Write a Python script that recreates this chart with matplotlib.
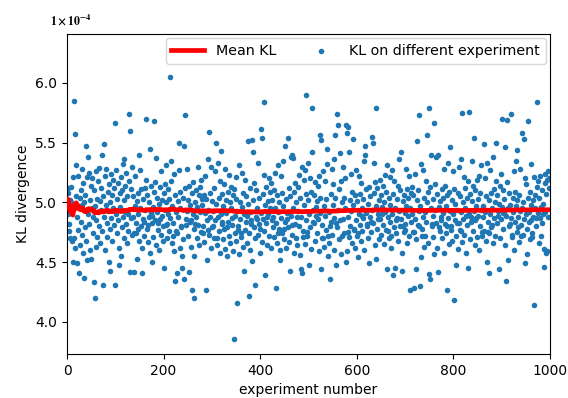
import numpy as np
import matplotlib
matplotlib.use("Agg")
import matplotlib.pyplot as plt

# KL divergence per experiment, in units of 1e-4
kl = [
    # 0-135
    4.98, 5.08, 4.90, 5.12, 4.76, 4.82, 5.02, 4.70, 5.00, 5.13,
    4.68, 4.93, 4.50, 5.21, 5.85, 4.70, 4.62, 5.57, 5.05, 5.31,
    4.49, 4.88, 5.22, 4.77, 4.41, 4.95, 5.04, 4.64, 5.10, 4.84,
    5.28, 4.73, 4.98, 5.16, 4.58, 4.37, 5.00, 4.79, 5.06, 4.68,
    5.47, 4.52, 5.21, 5.38, 4.90, 5.25, 4.82, 4.60, 5.02, 5.14,
    4.53, 4.95, 5.20, 4.74, 4.88, 4.33, 5.10, 4.20, 4.97, 4.63,
    5.26, 4.85, 5.03, 4.71, 5.18, 4.92, 4.80, 5.29, 4.66, 5.01,
    4.94, 5.12, 4.76, 5.40, 4.31, 5.05, 4.88, 5.49, 4.60, 5.22,
    4.98, 5.28, 4.83, 4.71, 5.09, 4.93, 4.50, 5.15, 4.78, 5.00,
    4.43, 5.24, 4.87, 5.06, 4.68, 5.19, 4.95, 4.81, 5.12, 5.66,
    4.31, 4.90, 5.27, 4.74, 5.03, 4.85, 5.16, 4.62, 4.48, 5.08,
    4.96, 5.21, 4.55, 4.79, 5.10, 4.88, 5.32, 5.36, 4.70, 5.02,
    4.92, 5.14, 4.82, 5.25, 4.66, 5.05, 4.90, 4.76, 5.74, 5.18,
    4.42, 5.60, 4.87, 5.11, 4.73, 5.30,
    # 136-279
    5.05, 4.88, 4.74, 4.42, 4.97, 5.22, 4.74, 4.83, 5.01, 4.53,
    4.78, 4.90, 5.08, 5.40, 4.68, 4.95, 5.27, 4.80, 5.11, 4.62,
    4.41, 5.03, 4.86, 4.84, 4.72, 5.12, 4.94, 5.19, 5.70, 4.78,
    5.06, 4.67, 4.81, 4.88, 5.00, 5.45, 4.58, 5.14, 4.91, 4.83,
    4.50, 4.89, 4.96, 4.71, 5.68, 5.09, 4.85, 5.17, 4.64, 5.37,
    4.92, 5.04, 4.77, 4.83, 4.99, 4.60, 5.13, 4.86, 5.26, 4.73,
    5.02, 4.89, 4.80, 4.68, 5.08, 4.45, 4.94, 5.15, 5.31, 4.81,
    5.00, 4.70, 4.82, 4.90, 5.11, 4.76, 5.03, 6.05, 4.87, 5.18,
    5.35, 4.66, 4.97, 4.72, 4.83, 5.24, 4.59, 4.34, 5.06, 4.92,
    4.76, 4.74, 4.41, 5.01, 4.88, 5.27, 5.50, 4.62, 5.09, 4.95,
    4.80, 4.79, 4.55, 4.45, 5.04, 4.69, 4.36, 5.47, 5.73, 5.12,
    4.86, 4.81, 4.93, 5.28, 4.72, 5.02, 4.42, 5.14, 4.84, 4.98,
    4.85, 4.63, 5.08, 4.27, 4.90, 5.17, 4.78, 4.55, 4.20, 5.00,
    4.82, 4.88, 5.10, 4.70, 4.96, 5.30, 4.81, 5.06, 4.64, 5.13,
    4.92, 5.19, 4.75, 5.03,
    # 280-424
    4.98, 4.74, 4.80, 5.06, 4.67, 5.22, 4.91, 5.03, 4.27, 4.85,
    4.52, 4.77, 4.94, 5.36, 4.73, 5.59, 5.08, 4.88, 5.30, 4.62,
    5.01, 4.79, 4.80, 4.93, 5.12, 4.70, 5.26, 4.85, 5.50, 4.99,
    4.64, 4.70, 4.88, 5.33, 4.76, 5.04, 4.58, 5.18, 5.43, 4.90,
    5.07, 4.82, 4.84, 4.69, 4.97, 5.15, 4.78, 5.28, 4.61, 5.02,
    4.91, 4.79, 4.55, 5.09, 4.84, 5.23, 4.72, 5.00, 4.66, 5.13,
    4.95, 4.87, 4.81, 5.06, 4.59, 3.86, 5.11, 4.89, 4.74, 5.21,
    5.03, 4.68, 4.16, 4.93, 4.77, 4.80, 5.31, 4.57, 5.00, 4.86,
    4.74, 4.71, 5.25, 4.96, 4.63, 5.08, 4.43, 4.90, 5.19, 4.77,
    5.05, 4.84, 4.89, 4.66, 4.99, 5.51, 4.74, 4.22, 5.12, 4.92,
    4.60, 4.82, 4.85, 5.52, 4.51, 5.02, 5.42, 4.79, 5.16, 4.70,
    4.31, 5.10, 4.88, 4.86, 4.95, 4.73, 5.33, 4.82, 5.04, 4.58,
    4.78, 4.91, 5.61, 4.67, 5.54, 5.07, 4.86, 5.23, 4.76, 5.84,
    4.98, 4.39, 5.13, 4.83, 4.88, 4.64, 5.01, 4.90, 5.20, 4.72,
    5.09, 4.95, 4.62, 5.16, 4.85,
    # 425-569
    5.02, 4.88, 4.79, 4.71, 5.10, 4.95, 5.25, 4.28, 4.83, 5.06,
    4.66, 5.31, 4.92, 4.74, 4.78, 5.00, 4.60, 4.52, 5.22, 4.87,
    5.08, 4.74, 5.35, 4.97, 4.69, 4.78, 5.47, 4.84, 5.03, 4.62,
    4.86, 4.91, 4.79, 5.54, 5.12, 4.67, 4.43, 5.05, 4.89, 5.38,
    5.40, 4.73, 4.81, 4.95, 5.37, 4.58, 5.09, 4.82, 5.16, 4.70,
    5.00, 4.88, 4.64, 4.93, 5.13, 4.80, 5.23, 4.56, 5.04, 4.44,
    4.88, 5.30, 4.41, 4.71, 4.76, 5.19, 4.98, 5.27, 4.65, 5.07,
    4.85, 5.90, 4.75, 4.72, 5.02, 5.33, 4.90, 4.48, 5.20, 4.79,
    5.09, 4.61, 5.42, 5.79, 4.94, 4.84, 4.83, 5.06, 4.68, 5.17,
    4.96, 4.89, 4.74, 5.01, 4.86, 5.14, 4.59, 5.22, 4.91, 5.04,
    5.56, 4.44, 5.52, 4.81, 4.70, 4.70, 5.26, 4.97, 4.63, 5.18,
    4.89, 5.03, 4.77, 5.32, 5.45, 4.55, 4.72, 4.92, 4.66, 4.36,
    4.80, 4.84, 5.07, 4.73, 5.28, 4.98, 5.15, 4.60, 5.36, 4.87,
    5.04, 5.56, 4.48, 4.83, 4.79, 5.74, 5.65, 4.94, 5.11, 4.69,
    5.41, 4.85, 5.18, 4.57, 5.00,
    # 570-714
    4.72, 4.86, 5.30, 4.74, 5.04, 4.95, 5.20, 5.65, 4.50, 5.58,
    4.59, 5.63, 4.88, 4.75, 4.71, 5.42, 5.02, 4.80, 5.24, 4.93,
    5.09, 4.66, 5.53, 4.98, 4.78, 4.77, 5.06, 4.62, 5.27, 4.85,
    5.01, 4.72, 4.74, 4.54, 4.90, 5.22, 4.81, 5.07, 4.68, 5.16,
    4.95, 4.89, 4.76, 5.03, 4.87, 5.35, 4.60, 5.47, 5.40, 4.91,
    5.11, 4.82, 4.80, 4.70, 4.99, 4.49, 5.13, 4.88, 5.05, 4.75,
    4.84, 4.94, 5.55, 5.50, 4.83, 5.08, 5.33, 4.64, 5.17, 5.79,
    4.53, 4.97, 5.12, 4.78, 4.86, 4.90, 5.02, 4.69, 5.19, 4.86,
    5.06, 4.73, 4.90, 4.96, 5.14, 4.81, 5.00, 4.65, 5.23, 4.92,
    5.09, 4.77, 5.31, 4.44, 4.88, 4.76, 5.04, 4.70, 5.21, 4.84,
    4.98, 4.72, 4.62, 5.27, 4.90, 4.39, 5.07, 4.79, 5.18, 4.45,
    4.95, 4.85, 4.74, 5.03, 4.87, 5.14, 4.68, 5.36, 4.93, 4.80,
    5.10, 5.42, 4.86, 4.58, 4.43, 5.01, 4.80, 4.75, 5.06, 4.91,
    4.77, 4.82, 5.28, 4.97, 4.66, 5.11, 4.89, 5.04, 4.72, 5.22,
    4.95, 4.27, 5.08, 4.84, 5.13,
    # 715-859
    4.90, 5.06, 4.75, 4.28, 4.75, 4.86, 5.24, 4.69, 4.44, 5.02,
    5.51, 4.81, 5.10, 4.93, 4.80, 5.73, 4.30, 4.97, 5.32, 4.54,
    4.78, 4.72, 4.88, 5.27, 4.63, 5.04, 4.92, 4.72, 5.18, 4.84,
    5.00, 5.56, 4.66, 5.09, 4.40, 5.79, 4.36, 5.13, 4.95, 5.40,
    4.80, 4.82, 4.71, 5.03, 4.89, 5.66, 4.57, 5.15, 4.94, 5.38,
    4.83, 5.07, 4.62, 4.42, 5.40, 4.96, 4.79, 4.76, 5.01, 4.88,
    4.85, 4.70, 5.11, 4.91, 5.04, 4.58, 5.28, 4.82, 5.14, 4.97,
    4.74, 5.06, 4.27, 4.80, 4.87, 5.33, 4.65, 5.09, 4.93, 5.46,
    4.80, 4.77, 4.68, 5.02, 4.90, 5.26, 4.18, 5.11, 4.85, 4.99,
    4.72, 4.48, 4.83, 4.94, 5.08, 4.61, 5.30, 4.83, 5.05, 4.77,
    4.76, 4.92, 5.36, 4.67, 5.75, 5.00, 4.86, 5.21, 4.73, 5.12,
    4.95, 4.89, 4.58, 5.04, 4.81, 5.18, 4.45, 5.76, 4.90, 5.07,
    4.69, 4.84, 4.88, 5.35, 5.01, 4.76, 5.14, 4.93, 5.54, 4.64,
    5.10, 4.85, 4.87, 4.97, 4.71, 5.19, 5.03, 4.89, 4.60, 5.22,
    4.80, 5.08, 4.94, 5.31, 4.75,
    # 860-999
    4.72, 4.88, 4.97, 5.49, 4.76, 5.20, 4.92, 5.05, 4.68, 5.33,
    4.50, 4.75, 4.84, 5.02, 4.74, 4.41, 5.27, 4.90, 5.08, 4.79,
    4.81, 4.95, 5.38, 4.66, 5.11, 4.87, 5.00, 4.72, 5.50, 5.18,
    4.83, 5.06, 4.93, 4.89, 4.44, 4.99, 5.14, 4.70, 5.24, 4.86,
    5.70, 4.96, 5.10, 4.78, 4.91, 4.91, 5.03, 4.64, 5.46, 4.89,
    4.34, 5.17, 5.69, 4.95, 4.52, 5.08, 4.80, 4.82, 4.98, 5.74,
    4.87, 4.73, 4.71, 5.04, 4.92, 5.26, 4.60, 5.09, 4.84, 5.35,
    4.97, 5.44, 4.75, 5.02, 4.88, 4.79, 4.67, 5.06, 4.93, 5.28,
    4.81, 4.72, 4.95, 5.58, 4.73, 5.00, 5.53, 4.86, 4.49, 5.20,
    4.90, 5.15, 4.78, 4.57, 5.04, 5.68, 4.92, 4.84, 4.69, 5.09,
    4.85, 5.32, 4.98, 4.71, 4.74, 5.02, 4.88, 5.21, 4.14, 5.06,
    4.95, 4.87, 4.80, 5.13, 5.84, 4.91, 5.18, 4.66, 5.04, 4.87,
    5.22, 4.96, 4.72, 5.10, 4.83, 4.90, 4.99, 4.61, 4.46, 5.16,
    4.92, 5.24, 5.07, 4.58, 5.19, 4.59, 5.26, 4.88, 5.20, 5.12,
]

x_ticks = [0, 200, 400, 600, 800, 1000]
y_ticks = [4.0, 4.5, 5.0, 5.5, 6.0]

kl = np.array(kl)
exp_idx = np.arange(len(kl))
running_mean = np.cumsum(kl) / np.arange(1, len(kl) + 1)

plt.rcParams['mathtext.fontset'] = 'stix'

fig = plt.figure(figsize=(5.68, 3.98), dpi=100)
ax = fig.add_axes([0.118, 0.110, 0.850, 0.805])

line, = ax.plot(exp_idx, running_mean, color='red', lw=3.4, label='Mean KL', zorder=3)
sc = ax.scatter(exp_idx, kl, s=16, linewidths=0, color='#1f77b4',
                label='KL on different experiment', zorder=2)

ax.set_xlim(0, 1000)
ax.set_ylim(3.73, 6.41)
ax.set_xticks(x_ticks)
ax.set_yticks(y_ticks)
ax.set_yticklabels([f"{v:.1f}" for v in y_ticks])
ax.tick_params(labelsize=10)
ax.set_xlabel('experiment number', fontsize=10)
ax.set_ylabel('KL divergence', fontsize=10)

ax.legend(handles=[line, sc], loc='upper right', ncol=2, fontsize=10.3,
          borderaxespad=0.3, handlelength=2.3, columnspacing=2.0,
          scatterpoints=1)

fig.text(0.088, 0.950, r'$\mathbf{1\times10^{-4}}$', fontsize=8.5, ha='left', va='center')

fig.savefig('out.png', dpi=100)
